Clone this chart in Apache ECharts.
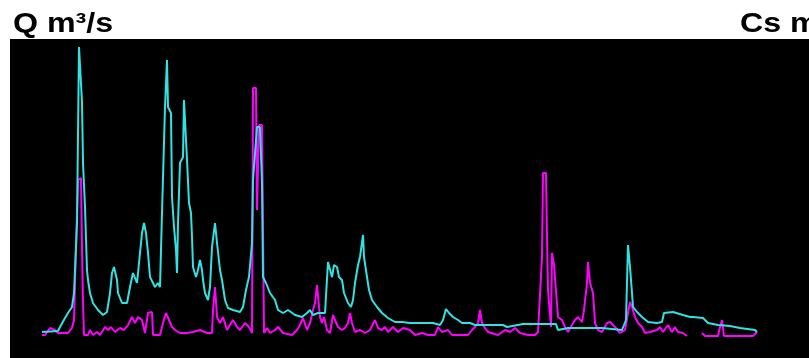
<!DOCTYPE html>
<html>
<head>
<meta charset="utf-8">
<script src="https://cdn.jsdelivr.net/npm/echarts@6/dist/echarts.min.js"></script>
<style>
html,body{margin:0;padding:0;background:#fff;}
#chart{width:809px;height:358px;}
</style>
</head>
<body>
<div id="chart"></div>
<script>
// Discharge Q (m³/s) : [day, value]
var qDays = [0,8,9,11.5,13,15,16,17.5,18.5,20,20.5,21.5,22.5,23,24,25.5,28,30.5,32.5,34,35,36,37.5,38,40,42.5,44,45.5,47.5,48.5,50,51,52,53,54,56.5,58,59,60,60.5,61.5,62.5,63,64.5,65,66,67,67.5,68,69,70.5,71,72,72.5,73.5,74.5,75,75.5,77,78,79,80,80.5,81.5,83,84,85,86.5,87.5,89,90,91.5,93,95.5,99,100.5,102,103.5,105,105.5,107.5,109,110,110.5,112,114,116.5,118,120.5,123,126.5,130,132.5,134,135.5,138,141.5,143,145,146,147.5,148.5,150,151,153,154.5,155.5,156.5,158,159,160.5,161,162.5,163.5,165,167.5,170,173,176.5,180,184,195.5,199,200.5,202,203.5,205.5,208,210,214,216.5,230.5,232.5,240.5,246.5,257,258,263,280,290,292,293,294,295,295.5,297.5,300,303,307.5,310,311,315.5,320.5,324,325.5,330.5,333,338,344,349,356.5,357.5];
var qValues = [130,135,155,200,225,255,325,675,1555,1280,975,755,440,390,325,275,240,215,230,325,425,455,390,325,275,275,355,425,375,475,625,675,625,525,405,355,375,355,725,725,1255,1490,1255,1225,805,655,540,425,675,975,1005,1290,1090,990,775,725,605,455,405,440,490,440,390,325,290,355,555,675,575,440,390,290,250,240,230,255,340,405,575,890,1155,1155,875,405,375,325,290,240,225,240,215,205,225,240,215,225,225,480,405,465,455,405,390,325,275,255,290,375,465,505,615,505,405,340,290,255,225,200,180,180,175,175,165,190,245,225,205,190,175,175,165,165,155,170,170,170,140,150,150,140,190,565,455,325,255,230,205,180,175,180,225,230,215,205,205,200,175,165,160,150,140,130];

// Suspended sediment concentration Cs (mg/l) : [day, value]
var csDays = [0,1.5,4,6.5,8,13,15,16,17,18,19.5,20,20.5,21,23,24,25.5,27.5,29,31.5,33,34.5,36.5,39,41,43,45,46.5,48,50,51.5,53,55,55.5,59,60.5,62,63.5,65,66.5,69,72.5,75.5,79,82.5,85,85.5,86.5,87.5,89,90.5,92.5,94,95.5,97.5,99,101.5,103.5,105,105.5,107,107.5,108.5,110,111,112.5,114,116.5,118,120.5,125,127.5,129,130.5,132.5,134,135.5,136.5,137.5,138,139,140,141,142.5,144,145.5,146.5,148,150,151.5,153,154,155,156.5,159,161.5,164,166.5,168,170,171.5,173,175.5,178,180.5,184,186.5,190,193,196.5,198,200,203,205,213,215,216.5,218,219,220,221.5,223,228,231.5,234,236.5,239,243,246.5,248,250,250.5,252,252.5,253,254.5,255,256,257,258,260,261.5,263,265,266.5,268,270,271,272.5,273,274,275.5,276.5,278,280,282.5,284,286.5,289,291.5,293,294,295,296.5,298,300,301.5,304,307.5,309,310.5,313,315,316.5,318,320.5,322.5,326,330,331.5,338,339,340,341,344,355.5,357.5];
var csValues = [230,230,300,280,250,250,300,380,1110,1780,1800,1110,550,230,230,280,230,260,230,310,280,310,260,300,280,330,410,350,410,380,250,450,460,230,230,350,450,380,310,280,250,250,260,280,250,250,480,710,410,350,410,280,330,380,310,280,350,310,250,2700,2700,1480,2330,2330,250,300,250,280,310,250,230,280,330,400,280,350,480,550,730,710,410,350,410,280,250,430,380,310,280,300,350,450,350,260,280,250,280,380,300,280,310,260,310,260,300,280,230,250,230,230,310,260,280,230,230,280,310,350,480,350,300,260,230,280,260,300,250,230,230,260,1010,1850,1850,1200,680,310,1050,930,930,410,380,310,260,330,380,410,360,480,750,960,750,650,350,280,260,350,360,310,250,280,450,560,510,410,350,310,250,260,280,310,260,330,260,310,260,250,220,null,250,220,220,310,380,220,220,220,260];

var leftTitle = 'Q m³/s';
var rightTitle = 'Cs mg/l';

function pairs(xs, ys){ var out=[]; for(var i=0;i<xs.length;i++){ out.push([xs[i], ys[i]]); } return out; }

var titleFont = 'bold 28px "Liberation Sans", Arial, sans-serif';
var chart = echarts.init(document.getElementById('chart'), null, {renderer:'canvas'});
chart.setOption({
  animation:false,
  backgroundColor:'#ffffff',
  graphic:[
    {type:'text', x:13, y:10, scaleX:1.15, z:10,
     style:{text:leftTitle, font:titleFont, fill:'#000', align:'left', verticalAlign:'top'}},
    {type:'text', x:740, y:10, scaleX:1.15, z:10,
     style:{text:rightTitle, font:titleFont, fill:'#000', align:'left', verticalAlign:'top'}}
  ],
  grid:{left:10, right:0, top:39, bottom:0, show:true, backgroundColor:'#000000', borderWidth:0, containLabel:false},
  xAxis:{type:'value', min:-16, max:383.5, show:false},
  yAxis:[
    {type:'value', min:0, max:1595, show:false},
    {type:'value', min:0, max:3190, show:false}
  ],
  series:[
    {name:'Cs', type:'line', yAxisIndex:1, data:pairs(csDays, csValues), showSymbol:false, connectNulls:false,
     lineStyle:{color:'#ff00ff', width:2}, itemStyle:{color:'#ff00ff'}},
    {name:'Q', type:'line', yAxisIndex:0, data:pairs(qDays, qValues), showSymbol:false,
     lineStyle:{color:'#30e3e3', width:2}, itemStyle:{color:'#30e3e3'}}
  ]
});
</script>
</body>
</html>
